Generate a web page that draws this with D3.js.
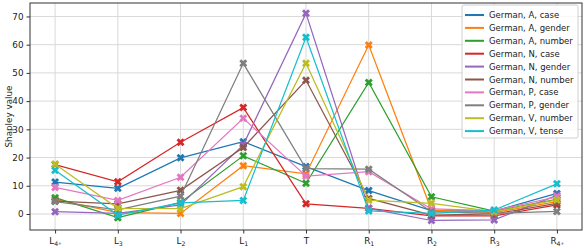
<!DOCTYPE html>
<html>
<head>
<meta charset="utf-8">
<script src="https://cdn.jsdelivr.net/npm/d3@7"></script>
<style>
  body { margin: 0; background: #fff; }
  svg { display: block; font-family: "DejaVu Sans", sans-serif; }
</style>
</head>
<body>
<svg id="chart"></svg>
<script>
// positions along the sentence (main label + subscript)
const positions = [["L", "4+"], ["L", "3"], ["L", "2"], ["L", "1"], ["T", ""], ["R", "1"], ["R", "2"], ["R", "3"], ["R", "4+"]];

const seriesNames = [
  "German, A, case", "German, A, gender", "German, A, number",
  "German, N, case", "German, N, gender", "German, N, number",
  "German, P, case", "German, P, gender", "German, V, number", "German, V, tense"
];

// values, one array per series
const aCase    = [11.3, 9.1, 19.9, 25.6, 16.8, 8.3, 1.2, 1.0, 7.3];
const aGender  = [5.2, 0.5, 0.2, 17.1, 14.2, 59.9, 1.4, 0.5, 4.4];
const aNumber  = [5.8, -1.3, 4.1, 20.6, 10.9, 46.6, 6.1, 1.0, 5.2];
const nCase    = [17.5, 11.4, 25.4, 37.7, 3.6, 2.0, -0.7, -0.7, 3.2];
const nGender  = [0.8, 0.2, 3.2, 24.5, 71.1, 2.0, -2.3, -2.1, 6.6];
const nNumber  = [4.6, 3.6, 8.4, 23.6, 47.4, 5.5, -0.4, 0.0, 3.8];
const pCase    = [9.4, 4.8, 13.0, 33.9, 13.4, 15.0, 1.8, 1.2, 6.1];
const pGender  = [4.4, 1.5, 6.3, 53.4, 16.1, 15.9, 0.8, 0.2, 0.9];
const vNumber  = [17.6, 2.0, 1.9, 9.7, 53.4, 4.9, 3.8, 0.8, 5.0];
const vTense   = [15.5, -0.4, 3.9, 4.8, 62.6, 1.1, 0.2, 1.4, 10.7];

const allValues = [aCase, aGender, aNumber, nCase, nGender, nNumber, pCase, pGender, vNumber, vTense];
const yTicks = [0, 10, 20, 30, 40, 50, 60, 70];

const width = 586, height = 248;
const margin = {top: 3, right: 4, bottom: 18, left: 30};
const innerW = width - margin.left - margin.right;
const innerH = height - margin.top - margin.bottom;

const colors = d3.schemeCategory10;

const svg = d3.select("#chart").attr("width", width).attr("height", height);
const g = svg.append("g").attr("transform", `translate(${margin.left},${margin.top})`);

// matplotlib style 5% margins
const n = positions.length;
const xPad = (n - 1) * 0.05;
const x = d3.scaleLinear().domain([-xPad, n - 1 + xPad]).range([0, innerW]);

const flat = allValues.flat();
const [ymin, ymax] = d3.extent(flat);
const yPad = (ymax - ymin) * 0.05;
const y = d3.scaleLinear().domain([ymin - yPad + 0.3, ymax + yPad]).range([innerH, 0]);

// grid
g.append("g").selectAll("line").data(d3.range(n)).join("line")
  .attr("x1", d => x(d)).attr("x2", d => x(d))
  .attr("y1", 0).attr("y2", innerH)
  .attr("stroke", "#d9d9d9").attr("stroke-width", 1);
g.append("g").selectAll("line").data(yTicks).join("line")
  .attr("x1", 0).attr("x2", innerW)
  .attr("y1", d => y(d)).attr("y2", d => y(d))
  .attr("stroke", "#d9d9d9").attr("stroke-width", 1);

// y axis
const yAxis = g.append("g")
  .call(d3.axisLeft(y).tickValues(yTicks).tickSize(3.5).tickPadding(3));
yAxis.select(".domain").remove();
yAxis.selectAll("line").attr("stroke", "#333");
yAxis.selectAll("text").attr("font-size", 8.8).attr("fill", "#222")
  .attr("font-family", "DejaVu Sans");

// x axis with subscripts
const xAxis = g.append("g").attr("transform", `translate(0,${innerH})`)
  .call(d3.axisBottom(x).tickValues(d3.range(n)).tickSize(3.5).tickPadding(4).tickFormat(""));
xAxis.select(".domain").remove();
xAxis.selectAll("line").attr("stroke", "#333");
xAxis.selectAll(".tick").each(function(d) {
  const t = d3.select(this).select("text")
    .attr("font-size", 8.8).attr("fill", "#222").attr("font-family", "DejaVu Sans");
  t.text(null);
  t.append("tspan").text(positions[d][0]);
  const sub = positions[d][1];
  if (sub) {
    t.append("tspan").attr("font-size", 6.2).attr("dy", 2).text(sub[0]);
    if (sub.length > 1) {
      t.append("tspan").attr("font-size", 4.5).attr("dy", -1).text(sub.slice(1));
    }
  }
});

// lines and markers
const line = d3.line().x((d, i) => x(i)).y(d => y(d));
const marker = d3.symbol().type(d3.symbolCross).size(40);

allValues.forEach((vals, si) => {
  const c = colors[si];
  g.append("path").datum(vals)
    .attr("d", line)
    .attr("fill", "none")
    .attr("stroke", c)
    .attr("stroke-width", 1.25);
  g.append("g").selectAll("path").data(vals).join("path")
    .attr("d", marker)
    .attr("transform", (d, i) => `translate(${x(i)},${y(d)}) rotate(45)`)
    .attr("fill", c);
});

// frame
g.append("rect").attr("width", innerW).attr("height", innerH)
  .attr("fill", "none").attr("stroke", "#333").attr("stroke-width", 1);

// y label
svg.append("text")
  .attr("transform", `translate(9,${margin.top + innerH / 2}) rotate(-90)`)
  .attr("text-anchor", "middle")
  .attr("dominant-baseline", "middle")
  .attr("font-size", 8.8).attr("fill", "#222")
  .text("Shapley value");

// legend
const lg = svg.append("g").attr("transform", "translate(462,5)");
lg.append("rect").attr("width", 116).attr("height", 133).attr("rx", 2)
  .attr("fill", "#fff").attr("fill-opacity", 0.8)
  .attr("stroke", "#d0d0d0").attr("stroke-width", 1);
seriesNames.forEach((name, i) => {
  const yy = 10 + i * 12.9;
  lg.append("line").attr("x1", 3).attr("x2", 22).attr("y1", yy).attr("y2", yy)
    .attr("stroke", colors[i]).attr("stroke-width", 2);
  lg.append("text").attr("x", 27).attr("y", yy).attr("dominant-baseline", "central")
    .attr("font-size", 8.5).attr("fill", "#222").text(name);
});
</script>
</body>
</html>
